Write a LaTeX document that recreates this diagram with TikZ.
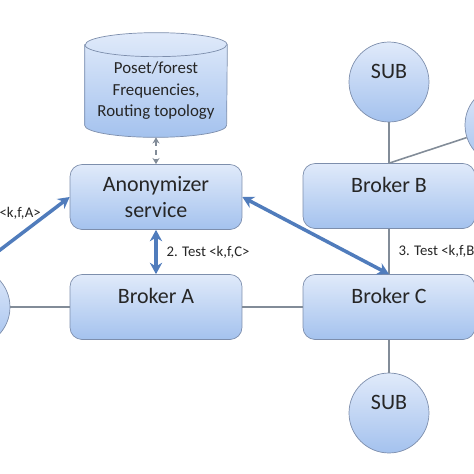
\documentclass[tikz,border=0pt]{standalone}
\usepackage{fontspec}
\setmainfont{Carlito}
\usetikzlibrary{arrows.meta,backgrounds}
\definecolor{boxtop}{RGB}{224,234,250}
\definecolor{boxbot}{RGB}{164,194,238}
\definecolor{boxline}{RGB}{125,142,172}
\definecolor{arrowblue}{RGB}{80,124,188}
\definecolor{linkgray}{RGB}{130,140,152}
\tikzset{
    boxnode/.style={draw=boxline, top color=boxtop, bottom color=boxbot, rounded corners=0.24cm,
        minimum width=3.44cm, minimum height=1.3cm, align=center, text=black!85,
        font=\fontsize{12.5}{15}\selectfont},
    onerow/.style={text height=9pt, text depth=12.5pt},
    subnode/.style={circle, draw=boxline, top color=boxtop, bottom color=boxbot, minimum size=1.6cm,
        inner sep=0pt, text=black!85, font=\fontsize{12.5}{15}\selectfont, text height=9pt, text depth=12.5pt},
    dbnode/.style={minimum width=2.84cm, minimum height=1.84cm, inner sep=0pt, align=center, text=black!85,
        font=\fontsize{9.6}{12.2}\selectfont},
    link/.style={draw=linkgray, line width=0.9pt},
    msg/.style={draw=arrowblue, line width=2pt, >={Stealth[length=6.5pt,width=7pt]}},
    dblink/.style={draw=linkgray, densely dashed, line width=0.6pt, >={Stealth[length=3.5pt,width=4pt]}},
    msglabel/.style={font=\fontsize{8.4}{10}\selectfont, text=black!85, inner sep=0pt},
}
\begin{document}
\begin{tikzpicture}[x=0.02cm, y=-0.02cm]
    \useasboundingbox (0,0) rectangle (474,474);
    \clip (0,0) rectangle (474,474);
    \node[dbnode] (db) at (156,91) {Poset/forest\\Frequencies,\\Routing topology};
    \begin{scope}[on background layer]
        \draw[draw=boxline, top color=boxtop, bottom color=boxbot] (db.north west) -- ([yshift=0.24cm]db.south west)
            arc[start angle=180, end angle=360, x radius=1.42cm, y radius=0.24cm] -- (db.north east)
            arc[start angle=0, end angle=180, x radius=1.42cm, y radius=0.24cm] -- cycle;
        \draw[draw=boxline] (db.north west) arc[start angle=180, end angle=360, x radius=1.42cm, y radius=0.24cm];
    \end{scope}
    \node[boxnode] (anon) at (156,197) {Anonymizer\\service};
    \foreach \n/\x/\y/\l in {brokerA/156/307/Broker A,brokerB/389/196/Broker B,brokerC/389/307/Broker C}{
        \node[boxnode, onerow] (\n) at (\x,\y) {\l};
    }
    \foreach \n/\x/\y/\l in {subTop/389/82/SUB,subBot/389/413/SUB,subRight/505/125/,subLeft/-30/307/}{
        \node[subnode] (\n) at (\x,\y) {\l};
    }
    \foreach \m/\n in {subTop/brokerB,brokerB.north/subRight,subLeft/brokerA,brokerA/brokerC,brokerC/subBot}{
        \draw[link] (\m) -- (\n);
    }
    \draw[link] (brokerB) -- node[msglabel, right=5pt]{3. Test <k,f,B>} (brokerC);
    \draw[dblink, <->] (db) -- (anon);
    \coordinate (pubstart) at (-4,253);
    \draw[msg, ->] (pubstart) -- (anon.west);
    \node[msglabel, anchor=east] (pubA) at (41,213) {<k,f,A>};
    \draw[msg, <->] (anon) -- node[msglabel, right=5pt]{2. Test <k,f,C>} (brokerA);
    \draw[msg, <->] (anon.east) -- (brokerC.north);
\end{tikzpicture}
\end{document}
